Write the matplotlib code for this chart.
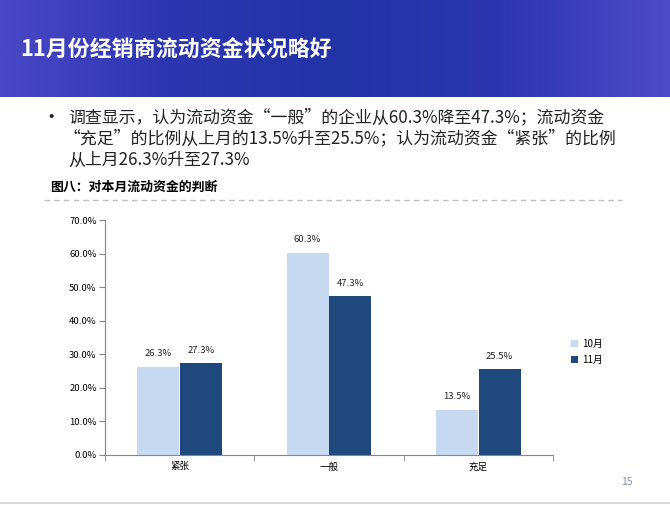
import numpy as np
import matplotlib
matplotlib.use('Agg')
import matplotlib.pyplot as plt
from matplotlib.colors import LinearSegmentedColormap

plt.rcParams['font.family'] = ['Noto Sans CJK SC', 'DejaVu Sans']

# 数据
categories = ['紧张', '一般', '充足']
series_names = ['10月', '11月']
oct_values = [26.3, 60.3, 13.5]
nov_values = [27.3, 47.3, 25.5]
y_ticks = [0, 10, 20, 30, 40, 50, 60, 70]

title = '11月份经销商流动资金状况略好'
bullet_lines = ['调查显示，认为流动资金“一般”的企业从60.3%降至47.3%；流动资金',
                '“充足”的比例从上月的13.5%升至25.5%；认为流动资金“紧张”的比例',
                '从上月26.3%升至27.3%']
chart_title = '图八：对本月流动资金的判断'
page_no = '15'

c_light = '#C6D9F0'
c_dark = '#1F497D'

W, H = 670, 505
fig = plt.figure(figsize=(W / 100, H / 100), dpi=100)

# 顶部蓝色横幅
band_h = 97
bg = fig.add_axes([0, 1 - band_h / H, 1, band_h / H])
cmap = LinearSegmentedColormap.from_list('band', ['#4a48c6', '#2c36b0', '#2233a6', '#2c36b0', '#4d4bc8'])
grad = np.linspace(0, 1, 256).reshape(1, -1)
bg.imshow(grad, aspect='auto', cmap=cmap, extent=[0, 1, 0, 1])
bg.set_axis_off()
fig.text(20 / W, 1 - 50 / H, title, color='white', fontsize=15.8, fontweight='bold', va='center')

# 要点文字
fig.text(41 / W, 1 - 118 / H, '•', fontsize=14, va='center', color='#222222')
line_y = [117, 138.5, 160]
for i, line in enumerate(bullet_lines):
    x = 68 if i != 1 else 64
    fig.text(x / W, 1 - line_y[i] / H, line, fontsize=12.2, va='center', color='#222222')

# 图表标题与虚线
fig.text(50 / W, 1 - 187 / H, chart_title, fontsize=9.3, fontweight='bold', va='center')
fig.add_artist(plt.Line2D([44 / W, 622 / W], [1 - 200 / H, 1 - 200 / H],
                          color='#bfbfbf', linestyle=(0, (4, 3)), linewidth=1))

# 柱状图
left, right, top, bottom = 105, 553, 220, 455
ax = fig.add_axes([left / W, 1 - bottom / H, (right - left) / W, (bottom - top) / H])
x = np.arange(len(categories))
w = 0.28
b1 = ax.bar(x - w / 2 - 0.003, oct_values, w, color=c_light, label=series_names[0])
b2 = ax.bar(x + w / 2 + 0.003, nov_values, w, color=c_dark, label=series_names[1])
for bars, vals in [(b1, oct_values), (b2, nov_values)]:
    for r, v in zip(bars, vals):
        ax.annotate('%.1f%%' % v, (r.get_x() + r.get_width() / 2, v), xytext=(0, 6),
                    textcoords='offset points', ha='center', va='bottom', fontsize=6.8, color='#222222')

ax.set_xlim(-0.5, 2.5)
ax.set_ylim(0, 70)
ax.set_yticks(y_ticks)
ax.set_yticklabels(['%.1f%%' % t for t in y_ticks], fontsize=6.8)
ax.set_xticks(x)
ax.set_xticklabels(categories, fontsize=6.8)
ax.set_xticks([-0.5, 0.5, 1.5, 2.5], minor=True)
ax.tick_params(axis='x', which='major', length=0, pad=5)
ax.tick_params(axis='x', which='minor', length=4, color='#868686', direction='out')
ax.tick_params(axis='y', length=4, color='#868686', pad=2)
for s in ['top', 'right']:
    ax.spines[s].set_visible(False)
for s in ['left', 'bottom']:
    ax.spines[s].set_color('#868686')

fig.legend(handles=[b1, b2], labels=series_names, loc='upper left',
           bbox_to_anchor=(562 / W, 1 - 330 / H), frameon=False, fontsize=7,
           handlelength=0.7, handleheight=0.7, handletextpad=0.5, labelspacing=0.6)

# 页码与底线
fig.text(627 / W, 1 - 482 / H, page_no, fontsize=7.5, color='#7f8fa6', ha='center', va='center')
fig.add_artist(plt.Line2D([0, 1], [1 - 503 / H, 1 - 503 / H], color='#d9d9d9', linewidth=1.5))

fig.savefig('out.png', dpi=100)
